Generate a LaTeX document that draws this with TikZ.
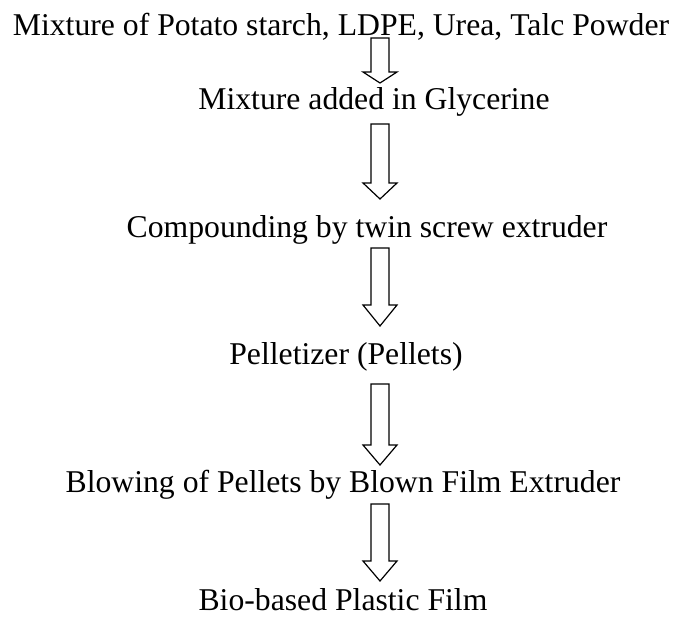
\documentclass[tikz,border=0pt]{standalone}
\usepackage{fontspec}
\setmainfont{Liberation Serif}
\usepackage{tikz}
\usetikzlibrary{positioning}
\usetikzlibrary{calc}
\tikzstyle{stage} = [font=\fontsize{31.7}{38}\selectfont, inner sep=0pt,
                text height=22pt, text depth=2pt]
\tikzset{flow/.style={draw, line width=1.2pt, to path={
                let \p1=(\tikztostart), \p2=(\tikztotarget) in
                (\x1-9pt,\y1) -- (\x1+9pt,\y1) -- (\x1+9pt,\y2+#1) -- (\x1+17pt,\y2+#1)
                -- (\x1,\y2) -- (\x1-17pt,\y2+#1) -- (\x1-9pt,\y2+#1) -- cycle}},
         flow/.default=20pt}

\begin{document}
\begin{tikzpicture}[x=1pt, y=1pt, on grid]
        \useasboundingbox (0,0) rectangle (678,-618);
        \coordinate (axis) at (380,0);
        \node[stage, anchor=base](mix) at (341,-36){Mixture of Potato starch, LDPE, Urea, Talc Powder};
        \node[stage, below=74pt of mix, xshift=33pt](glyc){Mixture added in Glycerine};
        \node[stage, below=127pt of glyc, xshift=-7pt](comp){Compounding by twin screw extruder};
        \node[stage, below=127pt of comp, xshift=-21pt](pellet){Pelletizer (Pellets)};
        \node[stage, below=128pt of pellet, xshift=-3pt](blow){Blowing of Pellets by Blown Film Extruder};
        \node[stage, below=118pt of blow](film){Bio-based Plastic Film};
        \draw[flow=11pt] ($(mix.base -| axis)+(0,-2)$) to ($(glyc.base -| axis)+(0,27)$);
        \draw[flow=16pt] ($(glyc.base -| axis)+(0,-14)$) to ($(comp.base -| axis)+(0,38)$);
        \draw[flow=21pt] ($(comp.base -| axis)+(0,-11)$) to ($(pellet.base -| axis)+(0,38)$);
        \draw[flow] ($(pellet.base -| axis)+(0,-20)$) to ($(blow.base -| axis)+(0,27)$);
        \draw[flow] ($(blow.base -| axis)+(0,-12)$) to ($(film.base -| axis)+(0,29)$);
\end{tikzpicture}
\end{document}
